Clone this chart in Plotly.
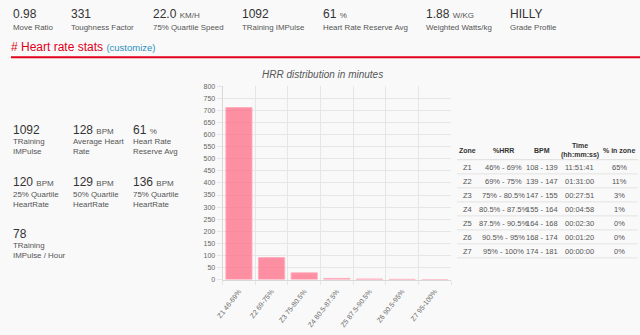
import plotly.graph_objects as go

W, H = 640, 335

# ---------------- data ----------------
zone_labels = ["Z1 46-69%", "Z2 69-75%", "Z3 75-80.5%", "Z4 80.5-87.5%",
               "Z5 87.5-90.5%", "Z6 90.5-95%", "Z7 95-100%"]
zone_minutes = [711.7, 91.0, 27.9, 5.0, 2.5, 1.3, 0.0]

top_values = ["0.98", "331", "22.0", "1092", "61", "1.88", "HILLY"]
top_units = ["", "", "KM/H", "", "%", "W/KG", ""]
top_labels = ["Move Ratio", "Toughness Factor", "75% Quartile Speed", "TRaining IMPulse",
              "Heart Rate Reserve Avg", "Weighted Watts/kg", "Grade Profile"]

left_values = ["1092", "128", "61", "120", "129", "136", "78"]
left_units = ["", "BPM", "%", "BPM", "BPM", "BPM", ""]
left_labels = ["TRaining<br>IMPulse", "Average Heart<br>Rate", "Heart Rate<br>Reserve Avg",
               "25% Quartile<br>HeartRate", "50% Quartile<br>HeartRate", "75% Quartile<br>HeartRate",
               "TRaining<br>IMPulse / Hour"]

table_header = ["Zone", "%HRR", "BPM", "Time<br>(hh:mm:ss)", "% in zone"]
t_zone = ["Z1", "Z2", "Z3", "Z4", "Z5", "Z6", "Z7"]
t_hrr = ["46% - 69%", "69% - 75%", "75% - 80.5%", "80.5% - 87.5%", "87.5% - 90.5%", "90.5% - 95%", "95% - 100%"]
t_bpm = ["108 - 139", "139 - 147", "147 - 155", "155 - 164", "164 - 168", "168 - 174", "174 - 181"]
t_time = ["11:51:41", "01:31:00", "00:27:51", "00:04:58", "00:02:30", "00:01:20", "00:00:00"]
t_pct = ["65%", "11%", "3%", "1%", "0%", "0%", "0%"]

# ---------------- helpers ----------------
FONT = "Liberation Sans, Arial, Helvetica, sans-serif"
BG = "#f9f9f9"

def px(x):
    return x / W

def py(y):
    return 1 - y / H

annotations = []
shapes = []

def text(x, y, s, size=9, color="#555", xanchor="left", yanchor="middle", **kw):
    annotations.append(dict(x=px(x), y=py(y), xref="paper", yref="paper", text=s,
                            showarrow=False, xanchor=xanchor, yanchor=yanchor,
                            font=dict(family=FONT, size=size, color=color),
                            align=kw.pop("align", "left"), borderpad=0, borderwidth=0, **kw))

def value_html(v, u):
    if u:
        return f"{v} <span style='font-size:8px;color:#555'>{u}</span>"
    return v

# top row
top_x = [6, 65, 148, 238, 319.5, 424, 509]
for x, v, u, l in zip(top_x, top_values, top_units, top_labels):
    text(x, 10.5, value_html(v, u), size=12, color="#333")
    text(x, 24, l, size=7.9, color="#555")

# section header
text(4, 44, "# Heart rate stats <span style='font-size:9.5px;color:#2a8fbd'>(customize)</span>",
     size=12, color="#e0001b")
shapes.append(dict(type="line", xref="paper", yref="paper", x0=px(4), x1=1, y0=py(54.3), y1=py(54.3),
                   line=dict(color="#e0001b", width=2)))

# left stats block
left_pos = [(6.5, 128.5), (66.5, 128.5), (127, 128.5), (6.5, 182), (66.5, 182), (127, 182), (6.5, 234.5)]
for (x, y), v, u, l in zip(left_pos, left_values, left_units, left_labels):
    text(x, y, value_html(v, u), size=12, color="#333")
    text(x, y + 7.5, l, size=7.9, color="#555", yanchor="top")

# chart title
text(318.5, 72, "<i>HRR distribution in minutes</i>", size=10, color="#555", xanchor="center")

# table
col_x = [466, 502, 541, 579, 619]
for x, h in zip(col_x, table_header):
    text(x, 150, f"<b>{h}</b>", size=7, color="#333", xanchor="center", align="center")
row_y0, row_dy = 166.5, 14.3
shapes.append(dict(type="line", xref="paper", yref="paper", x0=px(455), x1=px(638),
                   y0=py(row_y0 - 7.5), y1=py(row_y0 - 7.5), line=dict(color="#dddddd", width=1)))
for i in range(len(t_zone)):
    y = row_y0 + i * row_dy
    for x, s in zip(col_x, [t_zone[i], t_hrr[i], t_bpm[i], t_time[i], t_pct[i]]):
        text(x, y, s, size=7.5, color="#555", xanchor="center")
    shapes.append(dict(type="line", xref="paper", yref="paper", x0=px(455), x1=px(638),
                       y0=py(y + 7), y1=py(y + 7), line=dict(color="#e3e3e3", width=1)))

# ---------------- chart ----------------
fig = go.Figure()
fig.add_trace(go.Bar(
    x=zone_labels, y=zone_minutes,
    marker=dict(color="rgba(255,99,125,0.70)", line=dict(color="rgba(255,170,185,0.9)", width=1)),
    hoverinfo="x+y",
))

grid = "#e6e6e6"
fig.update_layout(
    width=W, height=H,
    margin=dict(l=0, r=0, t=0, b=0),
    paper_bgcolor=BG, plot_bgcolor=BG,
    showlegend=False,
    bargap=0.2,
    font=dict(family=FONT, size=7, color="#666"),
    xaxis=dict(domain=[px(218), px(449)], type="category", tickson="boundaries",
               showgrid=True, gridcolor=grid, gridwidth=1,
               ticks="outside", ticklen=4, tickcolor=grid,
               tickangle=-52, tickfont=dict(size=7, color="#666"), ticklabelstandoff=4,
               showline=True, linecolor="#d8d8d8", linewidth=1, fixedrange=True),
    yaxis=dict(domain=[py(281.5), py(84)], range=[0, 800], dtick=50,
               showgrid=True, gridcolor=grid, gridwidth=1,
               ticks="outside", ticklen=5, tickcolor=grid,
               tickfont=dict(size=7, color="#666"), zeroline=False,
               showline=True, linecolor="#d8d8d8", linewidth=1, fixedrange=True),
    annotations=annotations,
    shapes=shapes,
)

fig.write_html("out.html", config={"displayModeBar": False})
